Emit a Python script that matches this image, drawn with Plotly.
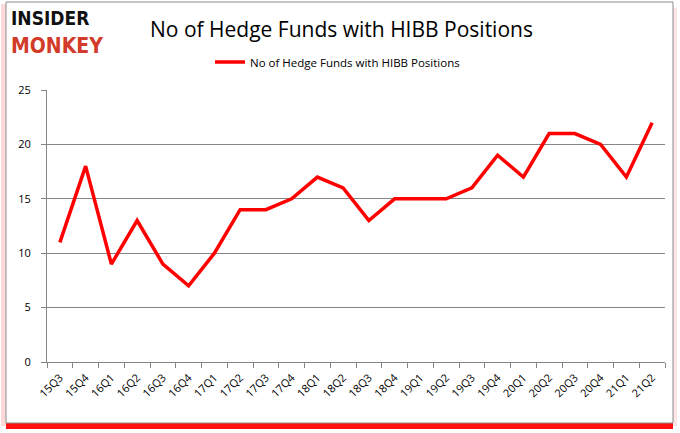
import plotly.graph_objects as go

quarters = ["15Q3","15Q4","16Q1","16Q2","16Q3","16Q4","17Q1","17Q2","17Q3","17Q4",
            "18Q1","18Q2","18Q3","18Q4","19Q1","19Q2","19Q3","19Q4","20Q1","20Q2",
            "20Q3","20Q4","21Q1","21Q2"]
funds = [11,18,9,13,9,7,10,14,14,15,17,16,13,15,15,15,16,19,17,21,21,20,17,22]
y_ticks = [0,5,10,15,20,25]
series_name = "No of Hedge Funds with HIBB Positions"
title_text = "No of Hedge Funds with HIBB Positions"

W, H = 680, 433
L, R, T, B = 47, 15, 90, 71
pw, ph = W - L - R, H - T - B

def px(x):
    return (x - L) / pw

def py(y):
    return (H - B - y) / ph

fig = go.Figure()
fig.add_trace(go.Scatter(
    x=quarters, y=funds, mode="lines", name=series_name,
    line=dict(color="#ff0000", width=3.5),
))

shapes = [
    dict(type="rect", xref="paper", yref="paper", x0=px(1), x1=px(6), y0=py(426), y1=py(4),
         fillcolor="rgba(255,150,150,0.35)", line=dict(width=0), layer="below"),
    dict(type="rect", xref="paper", yref="paper", x0=px(673), x1=px(677), y0=py(426), y1=py(8),
         fillcolor="rgba(255,150,150,0.25)", line=dict(width=0), layer="below"),
    dict(type="rect", xref="paper", yref="paper", x0=px(6), x1=px(673), y0=py(429), y1=py(421),
         fillcolor="#ff1010", line=dict(width=0), layer="below"),
    dict(type="rect", xref="paper", yref="paper", x0=px(6), x1=px(673), y0=py(423), y1=py(2),
         fillcolor="white", line=dict(color="#8c8c8c", width=1), layer="below"),
]

logo_font = "DejaVu Sans Condensed, DejaVu Sans"
annotations = [
    dict(text="<b>INSIDER</b>", xref="paper", yref="paper", x=px(9), y=py(18),
         xanchor="left", yanchor="middle", showarrow=False,
         font=dict(family=logo_font, size=19, color="#111111")),
    dict(text="<b>MONKEY</b>", xref="paper", yref="paper", x=px(9), y=py(45.5),
         xanchor="left", yanchor="middle", showarrow=False,
         font=dict(family=logo_font, size=21, color="#d23a2a")),
    dict(text=title_text, xref="paper", yref="paper", x=px(341), y=py(29),
         xanchor="center", yanchor="middle", showarrow=False,
         font=dict(family="Open Sans, Noto Sans", size=21, color="#000000")),
]

fig.update_layout(
    width=W, height=H,
    margin=dict(l=L, r=R, t=T, b=B),
    paper_bgcolor="white", plot_bgcolor="white",
    shapes=shapes, annotations=annotations,
    showlegend=True,
    legend=dict(x=px(210), y=py(62), xanchor="left", yanchor="middle",
                orientation="h", bgcolor="rgba(0,0,0,0)",
                font=dict(family="Open Sans, Noto Sans", size=11.5, color="#000000"),
                itemwidth=30),
    xaxis=dict(type="category", range=[-0.5, len(quarters) - 0.5],
               showline=True, linecolor="#868686", linewidth=1,
               ticks="outside", tickson="boundaries", ticklen=5, tickcolor="#868686",
               tickangle=-45, showgrid=False, ticklabelstandoff=4,
               tickfont=dict(family="Open Sans, Noto Sans", size=11, color="#000000")),
    yaxis=dict(range=[0, 25], tickvals=y_ticks, showline=True, linecolor="#868686",
               linewidth=1, ticks="outside", ticklen=5, tickcolor="#868686",
               showgrid=True, gridcolor="#868686", gridwidth=1, zeroline=False,
               ticklabelstandoff=8,
               tickfont=dict(family="Open Sans, Noto Sans", size=11, color="#000000")),
)

fig.write_html("out.html", config={"displayModeBar": False},
               post_script="document.body.style.margin='0';document.body.style.overflow='hidden';")
